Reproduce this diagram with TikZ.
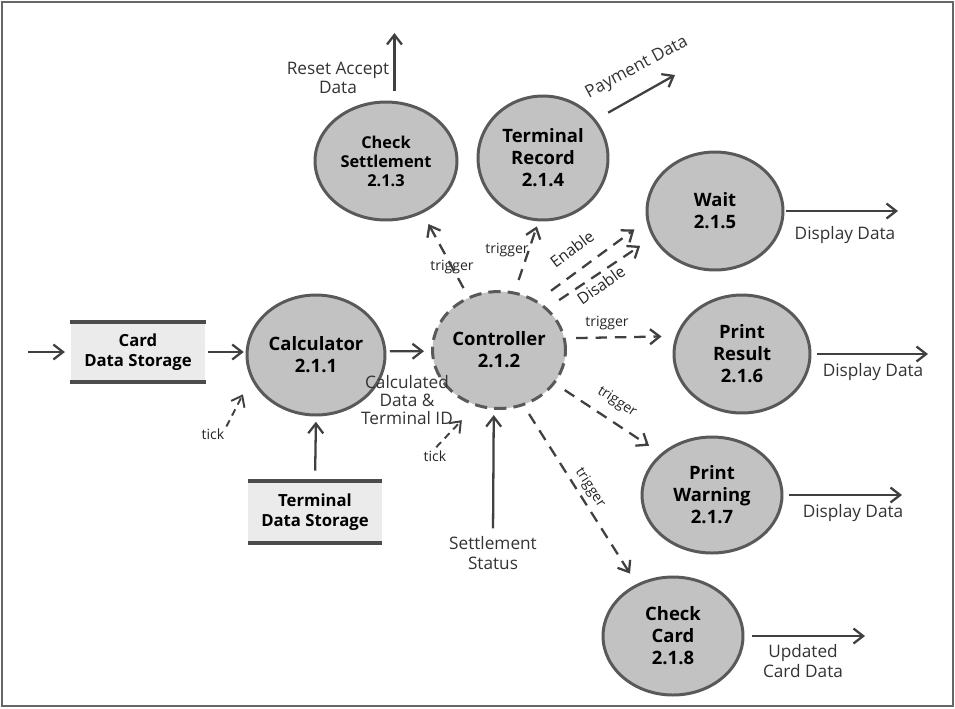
\documentclass[tikz,border=0pt]{standalone}
\usepackage{fontspec}
\setmainfont{Open Sans}
\usetikzlibrary{shapes.geometric,arrows.meta}

\begin{document}
\begin{tikzpicture}[x=0.02cm,y=-0.02cm,
  >={Straight Barb[length=5.5pt,width=8.5pt]},
  proc/.style={ellipse,draw=black!65,line width=1.7pt,fill=black!24,inner sep=0pt,align=center,font=\fontsize{10.5}{12.5}\selectfont\bfseries},
  ctl/.style={proc,dash pattern=on 7pt off 4pt},
  store/.style={fill=black!8,inner sep=0pt,align=center,font=\fontsize{9.5}{11.5}\selectfont\bfseries},
  bar/.style={line width=2.3pt,draw=black!70},
  flow/.style={->,line width=1.3pt,draw=black!75},
  trig/.style={flow,dash pattern=on 6.5pt off 4.5pt,shorten <=6pt,shorten >=8pt},
  ticker/.style={flow,line width=1.1pt,dash pattern=on 4pt off 3pt},
  lbl/.style={font=\fontsize{9.8}{11}\selectfont,text=black!80,align=center,inner sep=1pt},
  small/.style={font=\fontsize{8}{9.5}\selectfont,text=black!85,inner sep=1pt}]
\useasboundingbox (0,0) rectangle (955,708);
\draw[black!60,line width=0.6pt] (2,2) rectangle (953,706);

\node[proc,minimum width=2.76cm,minimum height=2.4cm] (calc) at (316,355) {Calculator\\2.1.1};
\node[ctl,minimum width=2.66cm,minimum height=2.34cm] (ctrl) at (499,350) {Controller\\2.1.2};
\node[proc,minimum width=2.84cm,minimum height=2.36cm,font=\fontsize{9.3}{10.8}\selectfont\bfseries] (chk) at (386,161) {Check\\Settlement\\2.1.3};
\node[proc,minimum width=2.6cm,minimum height=2.48cm] (rec) at (543,158) {Terminal\\Record\\2.1.4};
\node[proc,minimum width=2.72cm,minimum height=2.36cm] (wait) at (715,211) {Wait\\2.1.5};
\node[proc,minimum width=2.72cm,minimum height=2.36cm] (pr) at (742,354) {Print\\Result\\2.1.6};
\node[proc,minimum width=2.8cm,minimum height=2.32cm] (pw) at (712,495) {Print\\Warning\\2.1.7};
\node[proc,minimum width=2.8cm,minimum height=2.36cm] (cc) at (673,636) {Check\\Card\\2.1.8};

\node[store,minimum width=2.7cm,minimum height=1.2cm] (cds) at (138,352) {Card\\Data Storage};
\node[store,minimum width=2.68cm,minimum height=1.22cm] (tds) at (315,512) {Terminal\\Data Storage};
\draw[bar] (cds.north west) -- (cds.north east);
\draw[bar] (cds.south west) -- (cds.south east);
\draw[bar] (tds.north west) -- (tds.north east);
\draw[bar] (tds.south west) -- (tds.south east);

\coordinate (in) at (28,352);
\coordinate (rst) at (395,33);
\coordinate (pay) at (675,75);
\coordinate (wd) at (898,211);
\coordinate (prd) at (928,352);
\coordinate (pwd) at (902,493);
\coordinate (ccd) at (865,634);

\node[small] (tick1) at (213,434) {tick};
\node[small] (tick2) at (435,456) {tick};
\node[lbl,font=\fontsize{9.8}{10}\selectfont] (cdt) at (407,400) {Calculated\\Data \&\\Terminal ID};
\node[lbl] (sst) at (493,553) {Settlement\\Status};
\node[lbl] (rsl) at (338,78) {Reset Accept\\Data};
\node[lbl,rotate=28] (payl) at (637,68) {Payment Data};
\node[lbl] (wdl) at (845,235) {Display Data};
\node[lbl] (prl) at (873,372) {Display Data};
\node[lbl] (pwl) at (853,513) {Display Data};
\node[lbl] (ccl) at (803,661) {Updated\\Card Data};
\node[small] (tr1) at (452,267) {trigger};
\node[small] (tr2) at (507,250) {trigger};
\node[small,font=\fontsize{9}{10}\selectfont,rotate=37] (enl) at (572,249) {Enable};
\node[small,font=\fontsize{9}{10}\selectfont,rotate=35] (disl) at (601,285) {Disable};
\node[small] (tr3) at (607,323) {trigger};
\node[small,rotate=-33] (tr4) at (617,402) {trigger};
\node[small,rotate=-57] (tr5) at (590,488) {trigger};

\draw[flow,shorten >=3pt] (in) -- (cds.west);
\draw[flow,shorten <=1pt,shorten >=1pt] (cds.east) -- (cds.east -| calc.west);
\draw[flow,shorten <=6pt,shorten >=3pt] (tds.north) -- (calc.south);
\draw[flow,shorten <=2pt,shorten >=4pt] (calc.3) -- (ctrl.181);
\draw[flow,shorten <=3.5pt,shorten >=3pt] (sst.north) -- (ctrl.-95);
\draw[ticker,shorten >=10pt] (tick1.north east) -- (calc.200);
\draw[ticker,shorten <=1pt,shorten >=11pt] (tick2.north) -- (ctrl.247);

\draw[trig,shorten <=5.5pt,shorten >=7pt] (ctrl.120) -- (chk.-55);
\draw[trig,shorten <=7pt,shorten >=3pt] (ctrl.75) -- (rec.-94);
\draw[trig,shorten <=9.5pt,shorten >=8.5pt] (ctrl.52) -- (wait.188);
\draw[trig,shorten <=8pt,shorten >=8.5pt] (ctrl.41) -- (wait.203);
\draw[trig] (ctrl.10) -- (pr.165);
\draw[trig,shorten <=6.5pt] (ctrl.-31) -- (pw.141);
\draw[trig,shorten <=5.5pt,shorten >=7pt] (ctrl.-66) -- (cc.125);

\draw[flow,shorten <=5.5pt] (chk.82) -- (chk.82 |- rst);
\draw[flow,shorten <=8pt] (rec.36) -- (pay);
\draw[flow,shorten <=1pt] (wait.east) -- (wait.east -| wd);
\draw[flow,shorten <=3pt] (pr.east) -- (pr.east -| prd);
\draw[flow,shorten <=3pt] (pw.east) -- (pw.east -| pwd);
\draw[flow,shorten <=4pt] (cc.east) -- (cc.east -| ccd);
\end{tikzpicture}
\end{document}
